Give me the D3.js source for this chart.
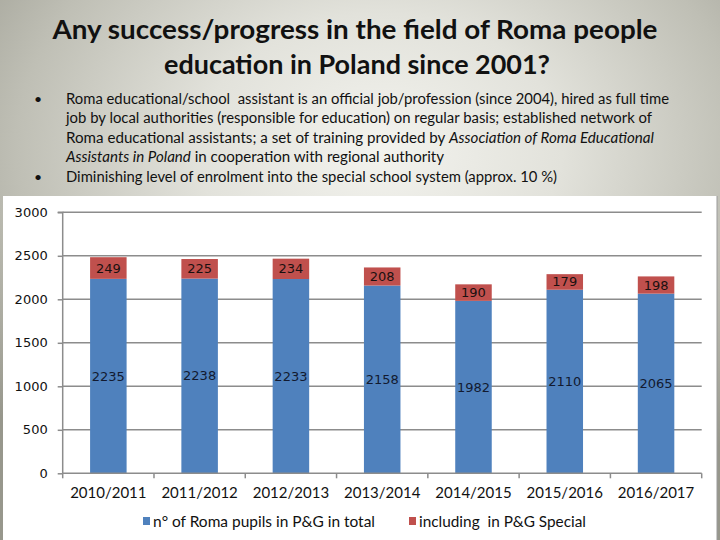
<!DOCTYPE html>
<html><head><meta charset="utf-8">
<script src="https://cdn.jsdelivr.net/npm/d3@7"></script>
<style>html,body{margin:0;padding:0;background:#fff}svg{display:block}</style>
</head><body>
<script>
const categories = ["2010/2011","2011/2012","2012/2013","2013/2014","2014/2015","2015/2016","2016/2017"];
const totalPupils = [2235,2238,2233,2158,1982,2110,2065];
const specialPupils = [249,225,234,208,190,179,198];
const seriesNames = ["n\u00b0 of Roma pupils in P&G in total","including  in P&G Special"];
const yTicks = [0,500,1000,1500,2000,2500,3000];
const titleLines = ["Any success/progress in the field of Roma people","education in Poland since 2001?"];

const W=720,H=540;
const svg=d3.select("body").append("svg").attr("width",W).attr("height",H);
const defs=svg.append("defs");
const rg=defs.append("radialGradient").attr("id","bg").attr("gradientUnits","userSpaceOnUse")
  .attr("cx",380).attr("cy",150).attr("r",520).attr("fx",380).attr("fy",150)
  .attr("gradientTransform","translate(380,150) scale(1,0.75) translate(-380,-150)");
rg.append("stop").attr("offset",0).attr("stop-color","#f3f3ee");
rg.append("stop").attr("offset",0.35).attr("stop-color","#e2e2db");
rg.append("stop").attr("offset",0.7).attr("stop-color","#bfbfb5");
rg.append("stop").attr("offset",1).attr("stop-color","#97978c");
svg.append("rect").attr("width",W).attr("height",H).attr("fill","url(#bg)");

const CAL="Lato, 'Open Sans', sans-serif";
function fit(sel,target){const n=sel.node();const w=n.getComputedTextLength();if(w>0){sel.attr("textLength",target).attr("lengthAdjust","spacingAndGlyphs");}}

// Title
const tl=[{y:39,cx:355,w:605},{y:74,cx:357,w:386}];
titleLines.forEach((t,i)=>{
  const s=svg.append("text").attr("x",tl[i].cx).attr("y",tl[i].y).attr("text-anchor","middle")
   .attr("font-family",CAL).attr("font-weight","bold").attr("font-size",27).attr("fill","#111").text(t);
  fit(s,tl[i].w);
});

// Bullets
const bulletLines=[
  {y:103.5,w:603,parts:[["Roma educational/school  assistant is an official job/profession (since 2004), hired as full time",false]]},
  {y:123,w:586,parts:[["job by local authorities (responsible for education) on regular basis; established network of",false]]},
  {y:142.5,w:588,parts:[["Roma educational assistants; a set of training provided by ",false],["Association of Roma Educational",true]]},
  {y:162,w:378,parts:[["Assistants in Poland",true],[" in cooperation with regional authority",false]]},
  {y:181.5,w:491,parts:[["Diminishing level of enrolment into the special school system (approx. 10 %)",false]]}
];
bulletLines.forEach(b=>{
  const t=svg.append("text").attr("x",66).attr("y",b.y).attr("font-family",CAL).attr("font-size",15.5).attr("fill","#111").attr("xml:space","preserve");
  b.parts.forEach(p=>t.append("tspan").attr("font-style",p[1]?"italic":"normal").text(p[0]));
  fit(t,b.w);
});
[103.5,181.5].forEach(y=>svg.append("text").attr("x",34).attr("y",y).attr("font-family",CAL).attr("font-size",14).attr("fill","#111").text("\u2022"));

// Chart panel
svg.append("rect").attr("x",3).attr("y",196).attr("width",714).attr("height",350).attr("fill","#fff");
svg.append("line").attr("x1",717).attr("x2",717).attr("y1",196).attr("y2",540).attr("stroke","#9a9a9a").attr("stroke-width",1);

const m={l:62.7,r:701.7,t:212.3,b:473.3};
const x=d3.scaleBand().domain(categories).range([m.l,m.r]).paddingInner(0.6).paddingOuter(0.3);
const xb=d3.scaleBand().domain(categories).range([m.l,m.r]);
const y=d3.scaleLinear().domain([0,3000]).range([m.b,m.t]);
const GRID="#8c8c8c";

svg.append("g").selectAll("line").data(yTicks.filter(d=>d>0)).join("line")
  .attr("x1",m.l).attr("x2",m.r).attr("y1",d=>y(d)).attr("y2",d=>y(d)).attr("stroke",GRID).attr("stroke-width",1.5);

const ya=svg.append("g").attr("transform",`translate(${m.l},0)`).call(d3.axisLeft(y).tickValues(yTicks).tickSize(5).tickPadding(10).tickFormat(d3.format("d")));
ya.select(".domain").attr("stroke",GRID).attr("stroke-width",1.5).attr("d",`M-5,${m.t}H0V${m.b}`);
ya.selectAll(".tick line").attr("stroke",GRID).attr("stroke-width",1.5);
ya.selectAll(".tick text").attr("font-family","'DejaVu Sans', Verdana, sans-serif").attr("font-size",13).attr("fill","#111");

const blue="#4f81bd",red="#c0504d";
const stackData=categories.map((c,i)=>({c,a:totalPupils[i],b:specialPupils[i]}));
svg.append("g").selectAll("rect").data(stackData).join("rect")
  .attr("x",d=>x(d.c)).attr("width",x.bandwidth()).attr("y",d=>y(d.a)).attr("height",d=>y(0)-y(d.a)).attr("fill",blue);
svg.append("g").selectAll("rect").data(stackData).join("rect")
  .attr("x",d=>x(d.c)).attr("width",x.bandwidth()).attr("y",d=>y(d.a+d.b)).attr("height",d=>y(d.a)-y(d.a+d.b)).attr("fill",red);

const xa=svg.append("g").attr("transform",`translate(0,${m.b})`);
xa.append("line").attr("x1",m.l).attr("x2",m.r).attr("stroke",GRID).attr("stroke-width",1.5);
xa.selectAll("line.t").data(d3.range(categories.length+1)).join("line").attr("class","t")
  .attr("x1",i=>m.l+i*xb.step()).attr("x2",i=>m.l+i*xb.step()).attr("y1",0).attr("y2",5).attr("stroke",GRID).attr("stroke-width",1.5);
xa.selectAll("text").data(categories).join("text").attr("x",d=>xb(d)+xb.bandwidth()/2).attr("y",25)
  .attr("text-anchor","middle").attr("font-family",CAL).attr("font-size",15).attr("fill","#111").text(d=>d);

const LF="'DejaVu Sans', Verdana, sans-serif";
svg.append("g").selectAll("text").data(stackData).join("text")
  .attr("x",d=>x(d.c)+x.bandwidth()/2).attr("y",d=>y(d.a/2)).attr("dy","0.35em").attr("text-anchor","middle")
  .attr("font-family",LF).attr("font-size",13).attr("fill","#121a30").text(d=>d.a);
svg.append("g").selectAll("text").data(stackData).join("text")
  .attr("x",d=>x(d.c)+x.bandwidth()/2).attr("y",d=>y(d.a+d.b/2)).attr("dy","0.35em").attr("text-anchor","middle")
  .attr("font-family",LF).attr("font-size",13).attr("fill","#1a1010").text(d=>d.b);

const leg=[{x:143,c:blue,t:seriesNames[0],w:222},{x:409,c:red,t:seriesNames[1],w:167}];
leg.forEach(l=>{
  svg.append("rect").attr("x",l.x).attr("y",517).attr("width",7).attr("height",8).attr("fill",l.c);
  const t=svg.append("text").attr("x",l.x+10).attr("y",527).attr("font-family",CAL).attr("font-size",15).attr("fill","#111").attr("xml:space","preserve").text(l.t);
  fit(t,l.w);
});
</script>
</body></html>
